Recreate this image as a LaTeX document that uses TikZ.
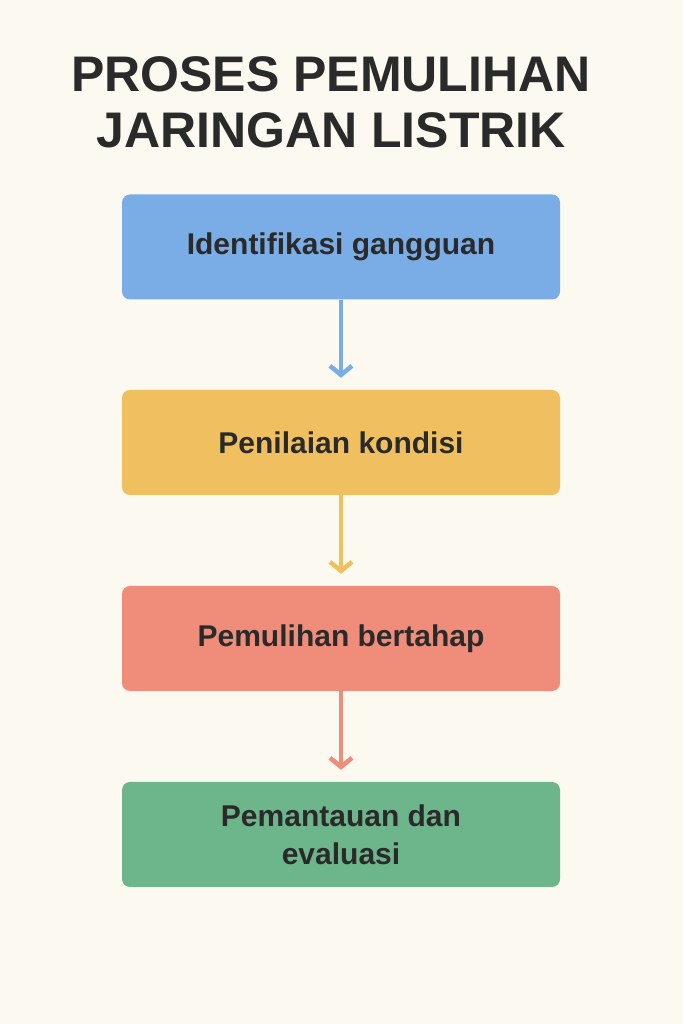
\documentclass[tikz,border=0pt]{standalone}
\usepackage{fontspec}
\setmainfont{Liberation Sans}
\usetikzlibrary{arrows.meta,calc}
\definecolor{bg}{HTML}{FCF9F0}
\definecolor{txt}{HTML}{2A2A2A}
\definecolor{cb}{HTML}{7AADE6}
\definecolor{cy}{HTML}{F0C060}
\definecolor{cr}{HTML}{F08C7A}
\definecolor{cg}{HTML}{6DB58A}
\tikzset{
 stepbox/.style={rounded corners=8pt, minimum width=438pt, minimum height=105pt, inner sep=0pt,
   text=txt, font=\fontsize{30}{34}\selectfont\bfseries, align=center},
 flow/.style={line width=4.5pt, -{Straight Barb[length=9pt,width=22pt,line width=4.5pt]}}
}
\begin{document}
\begin{tikzpicture}[x=1pt,y=1pt]
\fill[bg] (0,0) rectangle (683,1024);
\useasboundingbox (0,0) rectangle (683,1024);
\node[text=txt, font=\fontsize{50}{56}\selectfont\bfseries, align=center] (title) at (331,922)
 {PROSES PEMULIHAN\\JARINGAN LISTRIK};
\node[stepbox, fill=cb] (a) at (341,777) {Identifikasi gangguan};
\node[stepbox, fill=cy] (b) at (341,581.5) {Penilaian kondisi};
\node[stepbox, fill=cr] (c) at (341,385.5) {Pemulihan bertahap};
\node[stepbox, fill=cg, font=\fontsize{30}{38}\selectfont\bfseries] (d) at (341,189.5) {Pemantauan dan\\evaluasi};
\draw[flow, cb] (a.south) -- ($(b.north)+(0,12)$);
\draw[flow, cy] (b.south) -- ($(c.north)+(0,12)$);
\draw[flow, cr] (c.south) -- ($(d.north)+(0,12)$);
\end{tikzpicture}
\end{document}
